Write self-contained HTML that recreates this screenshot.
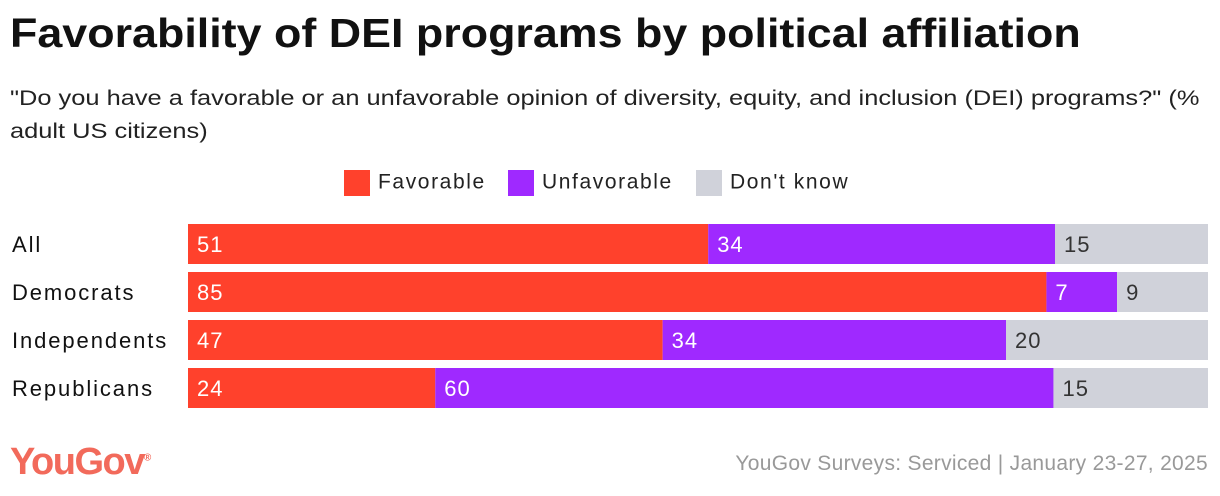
<!DOCTYPE html>
<html><head><meta charset="utf-8"><style>
body{margin:0;width:1220px;height:496px;background:#fff;font-family:"Liberation Sans",sans-serif;position:relative;overflow:hidden;color:#111}
.t{position:absolute;white-space:nowrap;transform-origin:0 0}
</style></head><body>
<div class="t" style="left:10px;top:10px;font-size:41px;font-weight:bold;transform:scaleX(1.093)">Favorability of DEI programs by political affiliation</div>
<div class="t" style="left:10px;top:82px;font-size:21px;line-height:33px;color:#222;transform:scaleX(1.21)">"Do you have a favorable or an unfavorable opinion of diversity, equity, and inclusion (DEI) programs?" (%<br>adult US citizens)</div>
<div style="position:absolute;left:344px;top:170px;font-size:21px;color:#222;letter-spacing:1.6px">
<span style="position:absolute;left:0;top:0;white-space:nowrap"><span style="display:inline-block;width:26px;height:26px;background:#ff412c;vertical-align:middle;margin-right:8px"></span>Favorable</span>
<span style="position:absolute;left:164px;top:0;white-space:nowrap"><span style="display:inline-block;width:26px;height:26px;background:#9f29ff;vertical-align:middle;margin-right:8px"></span>Unfavorable</span>
<span style="position:absolute;left:352px;top:0;white-space:nowrap"><span style="display:inline-block;width:26px;height:26px;background:#d0d2da;vertical-align:middle;margin-right:8px"></span>Don't know</span>
</div>
<svg id="chart" width="1220" height="496" style="position:absolute;left:0;top:0"></svg>
<div class="t" style="left:10px;top:441px;font-size:38px;font-weight:bold;color:#f26a5b;letter-spacing:-1.5px">YouGov<sup style="font-size:10px;letter-spacing:0">®</sup></div>
<div class="t" style="right:12px;top:452px;font-size:21px;color:#999;letter-spacing:0.3px">YouGov Surveys: Serviced | January 23-27, 2025</div>
<script>
const categories=["All","Democrats","Independents","Republicans"];
const favorable=[51,85,47,24];
const unfavorable=[34,7,34,60];
const dontKnow=[15,9,20,15];
const svg=document.getElementById('chart');
const NS='http://www.w3.org/2000/svg';
const x0=188,W=1020,y0=224,bh=40,step=48;
const colors=['#ff412c','#9f29ff','#d0d2da'];
const txt=['#fff','#fff','#333'];
const names=['favorable','unfavorable','dont-know'];
categories.forEach((c,i)=>{
  const vals=[favorable[i],unfavorable[i],dontKnow[i]];
  const tot=vals.reduce((a,b)=>a+b,0);
  const y=y0+i*step;
  const lab=document.createElementNS(NS,'text');
  
  
  lab.setAttribute('x',12);lab.setAttribute('y',y+bh/2+8);
  lab.setAttribute('font-size','22');lab.setAttribute('letter-spacing','1.9');lab.setAttribute('fill','#111');
  lab.textContent=c;svg.appendChild(lab);
  let x=x0;
  vals.forEach((v,k)=>{
    const w=v/tot*W;
    const r=document.createElementNS(NS,'rect');
    
    
    r.setAttribute('x',x);r.setAttribute('y',y);r.setAttribute('width',w);r.setAttribute('height',bh);
    r.setAttribute('fill',colors[k]);svg.appendChild(r);
    const t=document.createElementNS(NS,'text');
    
    
    t.setAttribute('x',x+9);t.setAttribute('y',y+bh/2+8);
    t.setAttribute('font-size','22');t.setAttribute('letter-spacing','1');t.setAttribute('fill',txt[k]);
    t.textContent=v;svg.appendChild(t);
    x+=w;
  });
});
</script>
</body></html>
